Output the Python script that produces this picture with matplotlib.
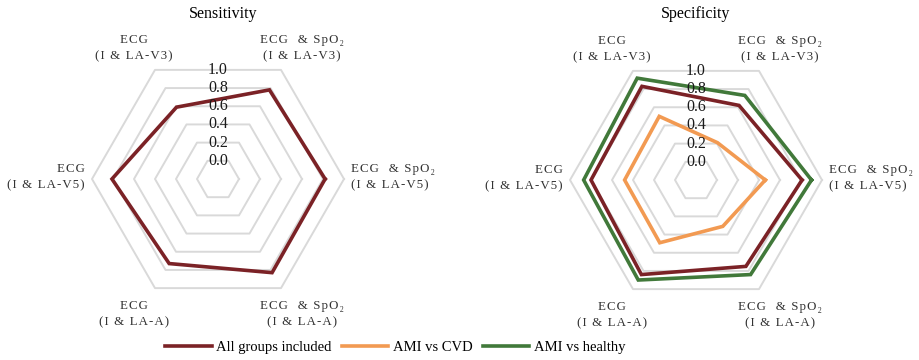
"""Radar charts of sensitivity and specificity per input configuration."""

import matplotlib

matplotlib.use("Agg")
import matplotlib.pyplot as plt
import numpy as np

# categories in drawing order, starting at 3 o'clock and going counter-clockwise
categories = [
    ("ECG  & SpO\u2082", "(I & LA-V5)"),
    ("ECG  & SpO\u2082", "(I & LA-V3)"),
    ("ECG", "(I & LA-V3)"),
    ("ECG", "(I & LA-V5)"),
    ("ECG", "(I & LA-A)"),
    ("ECG  & SpO\u2082", "(I & LA-A)"),
]
tick_values = [0.0, 0.2, 0.4, 0.6, 0.8, 1.0]

sensitivity_all = [0.82, 0.78, 0.59, 0.81, 0.73, 0.83]
specificity_all = [0.81, 0.62, 0.83, 0.80, 0.84, 0.75]
specificity_cvd = [0.46, 0.21, 0.50, 0.48, 0.49, 0.31]
specificity_healthy = [0.90, 0.73, 0.92, 0.87, 0.90, 0.84]

series_names = ["All groups included", "AMI vs CVD", "AMI vs healthy"]
colors = ["#7B2226", "#F29A52", "#41793A"]

R_MIN = -0.2  # radial axis starts below zero, as in the original
PX_PER_UNIT = 105.0
W, H = 919, 360
SERIF = ["Liberation Serif", "DejaVu Serif"]

plt.rcParams["font.family"] = SERIF

angles = np.deg2rad(np.arange(6) * 60.0)


def spaced(s):
    # loose tracking like the original labels
    return "\u200a".join(s)


def radar_axes(fig, cx, cy, half_w):
    # cx, cy in pixels from top-left; axes spans the full height
    left = (cx - half_w) / W
    ax = fig.add_axes([left, 0, 2 * half_w / W, 1])
    ax.set_xlim(-half_w / PX_PER_UNIT, half_w / PX_PER_UNIT)
    ax.set_ylim(-(H - cy) / PX_PER_UNIT, cy / PX_PER_UNIT)
    ax.axis("off")

    for v in tick_values:
        r = v - R_MIN
        xs = np.append(r * np.cos(angles), r * np.cos(angles[0]))
        ys = np.append(r * np.sin(angles), r * np.sin(angles[0]))
        ax.plot(xs, ys, color="#D9D9D9", lw=1.4, zorder=1)
        ax.text(0, r * np.sin(np.pi / 3), f"{v:.1f}", ha="center", va="center",
                fontsize=11.5, color="#1a1a1a", zorder=4)

    rmax = tick_values[-1] - R_MIN
    for ang, (l1, l2) in zip(angles, categories):
        vx, vy = rmax * np.cos(ang), rmax * np.sin(ang)
        label = spaced(l1) + "\n" + spaced(l2)
        if abs(np.cos(ang)) > 0.99:
            ha = "left" if np.cos(ang) > 0 else "right"
            ax.text(vx + np.sign(np.cos(ang)) * 0.07, vy + 0.02, label,
                    ha=ha, va="center", fontsize=9.3, color="#333333",
                    linespacing=1.45)
        else:
            tx = vx + np.sign(np.cos(ang)) * 0.2
            ty = vy + np.sign(np.sin(ang)) * 0.23 - 0.02
            ax.text(tx, ty, label, ha="center", va="center", fontsize=9.3,
                    color="#333333", linespacing=1.45)
    return ax


def draw_series(ax, values, color):
    r = np.array(values) - R_MIN
    xs = np.append(r * np.cos(angles), r[0] * np.cos(angles[0]))
    ys = np.append(r * np.sin(angles), r[0] * np.sin(angles[0]))
    return ax.plot(xs, ys, color=color, lw=2.6, zorder=3,
                   solid_joinstyle="miter")[0]


fig = plt.figure(figsize=(W / 100, H / 100), dpi=100)

ax1 = radar_axes(fig, 218, 179, 218)
draw_series(ax1, sensitivity_all, colors[0])
ax1.text(0.05, 1.57, "Sensitivity", ha="center", va="center", fontsize=11.5)

ax2 = radar_axes(fig, 696, 180, 220)
h_all = draw_series(ax2, specificity_all, colors[0])
h_cvd = draw_series(ax2, specificity_cvd, colors[1])
h_healthy = draw_series(ax2, specificity_healthy, colors[2])
ax2.text(0.0, 1.58, "Specificity", ha="center", va="center", fontsize=11.5)

fig.legend([h_all, h_cvd, h_healthy], series_names, loc="center",
           bbox_to_anchor=(395 / W, 1 - 347 / H), ncol=3, frameon=False,
           fontsize=10.5, handlelength=3.2, handletextpad=0.3,
           columnspacing=0.7)

fig.savefig("out.png", dpi=100)
